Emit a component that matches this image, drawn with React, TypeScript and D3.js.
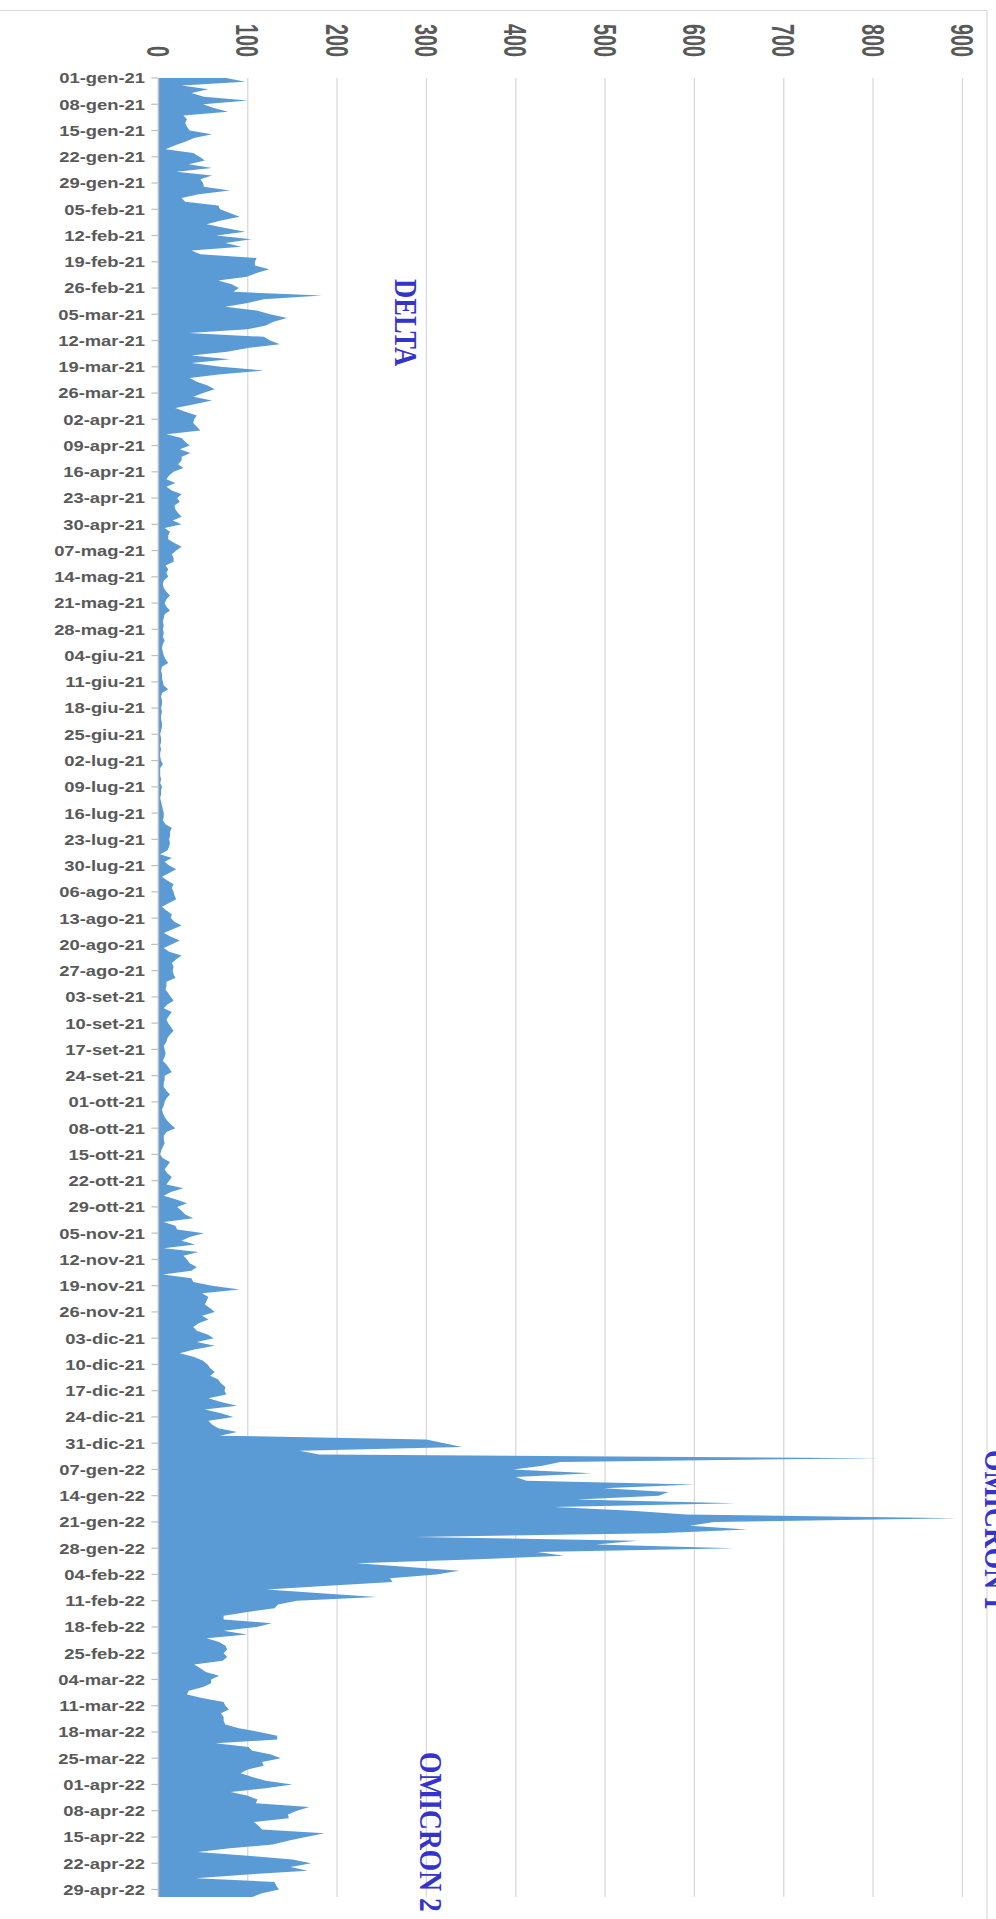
import React from "react";
import * as d3 from "d3";

// Weekly tick labels (every 7 days starting 01-gen-21)
const DATE_LABELS: string[] = [
  "01-gen-21", "08-gen-21", "15-gen-21", "22-gen-21", "29-gen-21",
  "05-feb-21", "12-feb-21", "19-feb-21", "26-feb-21",
  "05-mar-21", "12-mar-21", "19-mar-21", "26-mar-21",
  "02-apr-21", "09-apr-21", "16-apr-21", "23-apr-21", "30-apr-21",
  "07-mag-21", "14-mag-21", "21-mag-21", "28-mag-21",
  "04-giu-21", "11-giu-21", "18-giu-21", "25-giu-21",
  "02-lug-21", "09-lug-21", "16-lug-21", "23-lug-21", "30-lug-21",
  "06-ago-21", "13-ago-21", "20-ago-21", "27-ago-21",
  "03-set-21", "10-set-21", "17-set-21", "24-set-21",
  "01-ott-21", "08-ott-21", "15-ott-21", "22-ott-21", "29-ott-21",
  "05-nov-21", "12-nov-21", "19-nov-21", "26-nov-21",
  "03-dic-21", "10-dic-21", "17-dic-21", "24-dic-21", "31-dic-21",
  "07-gen-22", "14-gen-22", "21-gen-22", "28-gen-22",
  "04-feb-22", "11-feb-22", "18-feb-22", "25-feb-22",
  "04-mar-22", "11-mar-22", "18-mar-22", "25-mar-22",
  "01-apr-22", "08-apr-22", "15-apr-22", "22-apr-22", "29-apr-22",
];

// Daily values, one row per week
const DAILY_VALUES: number[] = [
  76, 97, 26, 56, 37, 51, 100,
  50, 62, 78, 28, 32, 30, 32,
  35, 60, 40, 30, 18, 8, 39,
  46, 52, 34, 60, 20, 60, 47,
  50, 51, 80, 45, 26, 30, 67,
  69, 80, 91, 70, 54, 75, 97,
  65, 104, 75, 93, 37, 47, 110,
  108, 108, 124, 110, 99, 67, 82,
  90, 84, 183, 118, 100, 75, 110,
  125, 144, 129, 120, 100, 34, 118,
  125, 136, 100, 77, 37, 80, 37,
  70, 118, 70, 35, 43, 55, 63,
  50, 39, 60, 40, 19, 30, 43,
  40, 39, 43, 47, 9, 26, 30,
  35, 24, 36, 26, 26, 22, 28,
  17, 12, 9, 19, 9, 15, 26,
  21, 24, 18, 19, 22, 26, 16,
  26, 7, 13, 11, 11, 18, 26,
  20, 15, 17, 17, 8, 11, 9,
  11, 6, 5, 6, 9, 13, 9,
  7, 9, 13, 7, 6, 5, 6,
  5, 6, 5, 7, 5, 4, 5,
  6, 8, 11, 4, 3, 4, 4,
  5, 6, 11, 4, 3, 4, 4,
  3, 4, 3, 3, 4, 4, 3,
  2, 3, 3, 2, 3, 2, 2,
  3, 5, 2, 2, 2, 3, 2,
  4, 3, 3, 2, 3, 4, 5,
  6, 6, 5, 8, 15, 13, 13,
  12, 13, 12, 10, 2, 15, 7,
  12, 20, 12, 4, 10, 17, 15,
  17, 18, 20, 12, 4, 9, 15,
  14, 18, 26, 16, 6, 14, 24,
  15, 6, 12, 26, 20, 15, 17,
  16, 17, 19, 9, 9, 8, 11,
  14, 17, 10, 6, 15, 12, 9,
  11, 14, 17, 13, 10, 9, 6,
  7, 8, 7, 5, 9, 12, 15,
  7, 7, 6, 6, 9, 13, 9,
  7, 6, 4, 5, 7, 10, 14,
  19, 9, 6, 6, 7, 5, 3,
  2, 5, 13, 10, 7, 10, 15,
  12, 9, 28, 14, 6, 20, 32,
  21, 26, 30, 39, 6, 19, 21,
  51, 35, 26, 41, 6, 45, 28,
  32, 35, 43, 37, 5, 37, 39,
  60, 91, 49, 56, 54, 52, 58,
  63, 49, 56, 45, 39, 43, 55,
  62, 43, 63, 40, 24, 40, 50,
  55, 58, 63, 58, 67, 70, 75,
  74, 76, 56, 70, 88, 52, 70,
  84, 56, 60, 67, 88, 69, 300,
  320, 340, 158, 180, 808, 450, 430,
  397, 485, 400, 412, 600, 498, 571,
  560, 468, 646, 443, 530, 591, 895,
  622, 595, 659, 560, 287, 536, 490,
  644, 424, 454, 350, 222, 280, 337,
  311, 259, 262, 190, 121, 182, 244,
  155, 134, 130, 100, 73, 73, 127,
  110, 73, 99, 54, 68, 75, 77,
  73, 77, 72, 40, 47, 53, 68,
  59, 59, 50, 34, 32, 50, 73,
  75, 79, 70, 73, 73, 75, 90,
  113, 133, 133, 64, 101, 105, 126,
  137, 116, 118, 100, 92, 105, 120,
  150, 120, 81, 100, 111, 109, 169,
  155, 145, 146, 107, 112, 116, 186,
  165, 145, 128, 80, 44, 100, 150,
  171, 148, 167, 100, 42, 130, 132,
  135, 116, 105,
];

const VALUE_TICKS: number[] = [0, 100, 200, 300, 400, 500, 600, 700, 800, 900];

const WAVE_LABELS: string[] = ["DELTA", "OMICRON 1", "OMICRON 2"];

const W = 996;
const H = 1919;

export default function App() {
  const x = d3.scaleLinear().domain([0, 900]).range([158.4, 962.4]);
  const y = d3
    .scaleLinear()
    .domain([0, DAILY_VALUES.length - 1])
    .range([78, 1897]);

  const area = d3
    .area<number>()
    .y((_d, i) => y(i))
    .x0(x(0))
    .x1((d) => x(d))
    .curve(d3.curveLinear);

  const plotTop = y(0);
  const plotBottom = y(DAILY_VALUES.length - 1);

  const waveStyle = {
    fontFamily: "'Liberation Serif', 'Times New Roman', serif",
    fontWeight: 700,
    fontSize: 32,
    fill: "#3434c8",
  } as React.CSSProperties;

  return (
    <svg
      width={W}
      height={H}
      viewBox={`0 0 ${W} ${H}`}
      style={{ position: "absolute", left: 0, top: 0, background: "#ffffff" }}
    >
      <rect x={0} y={0} width={W} height={H} fill="#ffffff" />
      {/* chart border (rotated) */}
      <line x1={0} x2={987} y1={10.5} y2={10.5} stroke="#d9d9d9" strokeWidth={1.2} />
      <line x1={987} x2={987} y1={10.5} y2={H} stroke="#d9d9d9" strokeWidth={1.2} />

      {/* gridlines */}
      {VALUE_TICKS.filter((v) => v > 0).map((v) => (
        <line
          key={`g${v}`}
          x1={x(v)}
          x2={x(v)}
          y1={plotTop}
          y2={plotBottom}
          stroke="#d9d9d9"
          strokeWidth={1.3}
        />
      ))}

      {/* area */}
      <path d={area(DAILY_VALUES) || ""} fill="#5b9bd5" />

      {/* axis line + ticks */}
      <line x1={x(0)} x2={x(0)} y1={plotTop} y2={plotBottom} stroke="#bfbfbf" strokeWidth={1.5} />
      {DATE_LABELS.map((lab, k) => (
        <line
          key={`t${k}`}
          x1={x(0) - 7}
          x2={x(0)}
          y1={y(k * 7)}
          y2={y(k * 7)}
          stroke="#bfbfbf"
          strokeWidth={1.2}
        />
      ))}

      {/* date labels */}
      {DATE_LABELS.map((lab, k) => (
        <text
          key={`l${k}`}
          transform={`translate(145, ${y(k * 7)}) scale(1.225, 1)`}
          textAnchor="end"
          dy="0.36em"
          style={{
            fontFamily: "'Liberation Sans', Arial, sans-serif",
            fontWeight: 700,
            fontSize: 15,
            fill: "#595959",
          }}
        >
          {lab}
        </text>
      ))}

      {/* value labels (rotated) */}
      {VALUE_TICKS.map((v) => (
        <text
          key={`v${v}`}
          transform={`translate(${x(v)}, 57) rotate(90) scale(0.62, 1)`}
          textAnchor="end"
          dy="0.36em"
          style={{
            fontFamily: "'Liberation Sans', Arial, sans-serif",
            fontWeight: 700,
            fontSize: 32,
            fill: "#595959",
          }}
        >
          {v}
        </text>
      ))}

      {/* wave annotations */}
      <text transform={`translate(395, 279) rotate(90) scale(0.83, 1)`} style={waveStyle}>
        {WAVE_LABELS[0]}
      </text>
      <text transform={`translate(985, 1450) rotate(90) scale(0.86, 1)`} style={waveStyle}>
        {WAVE_LABELS[1]}
      </text>
      <text transform={`translate(420, 1752) rotate(90) scale(0.86, 1)`} style={waveStyle}>
        {WAVE_LABELS[2]}
      </text>
    </svg>
  );
}
